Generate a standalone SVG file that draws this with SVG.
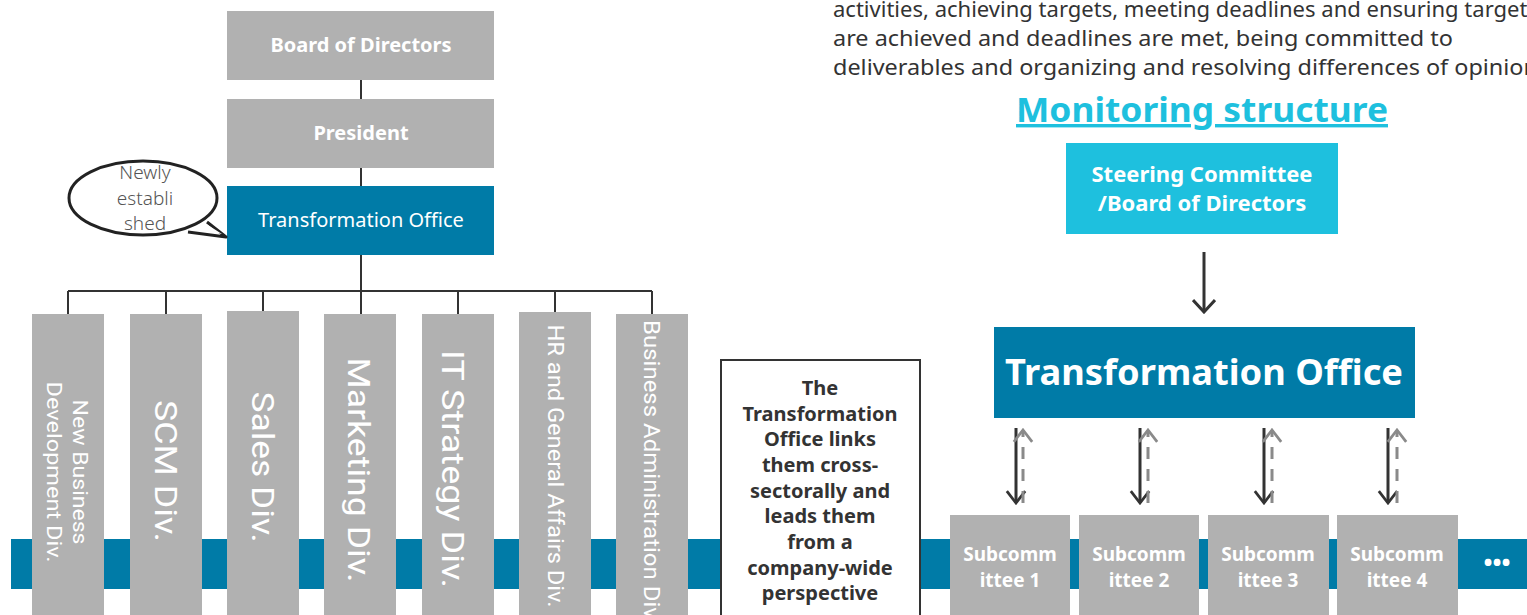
<svg xmlns="http://www.w3.org/2000/svg" width="1527" height="615" viewBox="0 0 1527 615">
<style>
.gray{fill:#b1b1b1}
.blue{fill:#007ba7}
.cyan{fill:#1ec0de}
.wb{fill:#fff;font-family:"Noto Sans","Open Sans",sans-serif;font-weight:bold;text-anchor:middle}
.wr{fill:#fff;font-family:"Noto Sans","Open Sans",sans-serif;text-anchor:middle}
.div{fill:#fff;font-family:Roboto,"Liberation Sans",sans-serif;text-anchor:middle}
.body{fill:#333;font-family:"Noto Sans","Open Sans",sans-serif;font-size:21px}
.conn{stroke:#333;stroke-width:2;fill:none}
.dn{stroke:#333;stroke-width:3;fill:none}
.up{stroke:#8a8a8a;stroke-width:3;fill:none;stroke-dasharray:12 10}
</style>
<defs>
<marker id="chevBig" viewBox="0 0 24 24" refX="22" refY="12" markerWidth="24" markerHeight="24" markerUnits="userSpaceOnUse" orient="auto"><path d="M10,1 L22,12 L10,23" fill="none" stroke="#333" stroke-width="3"/></marker>
<marker id="chevDark" viewBox="0 0 24 24" refX="22" refY="12" markerWidth="22" markerHeight="22" markerUnits="userSpaceOnUse" orient="auto"><path d="M9,2 L22,12 L9,22" fill="none" stroke="#333" stroke-width="3"/></marker>
<marker id="chevGray" viewBox="0 0 24 24" refX="22" refY="12" markerWidth="22" markerHeight="22" markerUnits="userSpaceOnUse" orient="auto"><path d="M9,2 L22,12 L9,22" fill="none" stroke="#8a8a8a" stroke-width="3"/></marker>
</defs>
<rect width="1527" height="615" fill="#fff"/>

<!-- band -->
<rect class="blue" x="11" y="539" width="1516" height="50"/>

<!-- connectors -->
<g id="connectors">
<line class="conn" x1="361" y1="80" x2="361" y2="99"/>
<line class="conn" x1="361" y1="168" x2="361" y2="186"/>
<line class="conn" x1="361" y1="255" x2="361" y2="314"/>
<line class="conn" x1="68" y1="291" x2="652" y2="291"/>
<line class="conn" x1="68" y1="291" x2="68" y2="314"/>
<line class="conn" x1="166" y1="291" x2="166" y2="314"/>
<line class="conn" x1="263" y1="291" x2="263" y2="311"/>
<line class="conn" x1="458" y1="291" x2="458" y2="314"/>
<line class="conn" x1="555" y1="291" x2="555" y2="312"/>
<line class="conn" x1="652" y1="291" x2="652" y2="314"/>
<line class="dn" x1="1204" y1="252" x2="1204" y2="312" marker-end="url(#chevBig)"/>
<line class="dn" x1="1016" y1="428" x2="1016" y2="503" marker-end="url(#chevDark)"/>
<line class="up" x1="1023" y1="503" x2="1023" y2="430" marker-end="url(#chevGray)"/>
<line class="dn" x1="1140" y1="428" x2="1140" y2="503" marker-end="url(#chevDark)"/>
<line class="up" x1="1148" y1="503" x2="1148" y2="430" marker-end="url(#chevGray)"/>
<line class="dn" x1="1264" y1="428" x2="1264" y2="503" marker-end="url(#chevDark)"/>
<line class="up" x1="1272" y1="503" x2="1272" y2="430" marker-end="url(#chevGray)"/>
<line class="dn" x1="1388" y1="428" x2="1388" y2="503" marker-end="url(#chevDark)"/>
<line class="up" x1="1397" y1="503" x2="1397" y2="430" marker-end="url(#chevGray)"/>
</g>

<g id="board"><rect class="gray" x="227" y="11" width="267" height="69"/><text class="wb" x="361" y="52" font-size="20">Board of Directors</text></g>
<g id="president"><rect class="gray" x="227" y="99" width="267" height="69"/><text class="wb" x="361" y="140" font-size="20">President</text></g>
<g id="transformation-office-left"><rect class="blue" x="227" y="186" width="267" height="69"/><text class="wr" x="361" y="227" font-size="20">Transformation Office</text></g>

<g id="bubble">
<path d="M207,222 L226,237 L188,232" fill="#fff" stroke="#222" stroke-width="3" stroke-linejoin="round"/>
<ellipse cx="143" cy="198" rx="74" ry="37" fill="#fff" stroke="#222" stroke-width="3"/>
<path d="M203,222 L222,234 L192,229" fill="#fff" stroke="none"/>
<g fill="#555" font-family="'Noto Sans','Open Sans',sans-serif" font-size="19" text-anchor="middle" font-weight="300">
<text x="145" y="179">Newly</text><text x="145" y="205">establi</text><text x="145" y="230">shed</text>
</g>
</g>

<g id="div-newbiz"><rect class="gray" x="32" y="314" width="72" height="301"/>
<g transform="translate(68,472) rotate(90)"><text class="div" x="0" y="-5" font-size="21" textLength="145" lengthAdjust="spacingAndGlyphs">New Business</text><text class="div" x="0" y="21" font-size="21" textLength="181" lengthAdjust="spacingAndGlyphs">Development Div.</text></g></g>
<g id="div-scm"><rect class="gray" x="130" y="314" width="72" height="301"/>
<g transform="translate(166,471) rotate(90)"><text class="div" x="0" y="11" font-size="32" textLength="142" lengthAdjust="spacingAndGlyphs">SCM Div.</text></g></g>
<g id="div-sales"><rect class="gray" x="227" y="311" width="72" height="304"/>
<g transform="translate(263,467) rotate(90)"><text class="div" x="0" y="11" font-size="32" textLength="151" lengthAdjust="spacingAndGlyphs">Sales Div.</text></g></g>
<g id="div-marketing"><rect class="gray" x="324" y="314" width="72" height="301"/>
<g transform="translate(359,470) rotate(90)"><text class="div" x="0" y="11" font-size="32" textLength="225" lengthAdjust="spacingAndGlyphs">Marketing Div.</text></g></g>
<g id="div-it"><rect class="gray" x="422" y="314" width="72" height="301"/>
<g transform="translate(453,469) rotate(90)"><text class="div" x="0" y="11" font-size="32" textLength="238" lengthAdjust="spacingAndGlyphs">IT Strategy Div.</text></g></g>
<g id="div-hr"><rect class="gray" x="519" y="312" width="72" height="303"/>
<g transform="translate(556,466) rotate(90)"><text class="div" x="0" y="8" font-size="22" textLength="283" lengthAdjust="spacingAndGlyphs">HR and General Affairs Div.</text></g></g>
<g id="div-ba"><rect class="gray" x="616" y="314" width="72" height="301"/>
<g transform="translate(652,472) rotate(90)"><text class="div" x="0" y="8" font-size="22" textLength="304" lengthAdjust="spacingAndGlyphs">Business Administration Div.</text></g></g>

<g id="note">
<rect x="721" y="360" width="199" height="270" fill="#fff" stroke="#333" stroke-width="2"/>
<g fill="#333" font-family="'Noto Sans','Open Sans',sans-serif" font-weight="bold" font-size="20" text-anchor="middle">
<text x="820" y="395">The</text>
<text x="820" y="421">Transformation</text>
<text x="820" y="446">Office links</text>
<text x="820" y="472">them cross-</text>
<text x="820" y="498">sectorally and</text>
<text x="820" y="523">leads them</text>
<text x="820" y="549">from a</text>
<text x="820" y="575">company-wide</text>
<text x="820" y="600">perspective</text>
</g>
</g>

<g id="paragraph">
<text class="body" x="833" y="17" textLength="705" lengthAdjust="spacingAndGlyphs">activities, achieving targets, meeting deadlines and ensuring targets</text>
<text class="body" x="833" y="46" textLength="620" lengthAdjust="spacingAndGlyphs">are achieved and deadlines are met, being committed to</text>
<text class="body" x="833" y="75" textLength="705" lengthAdjust="spacingAndGlyphs">deliverables and organizing and resolving differences of opinion</text>
</g>

<g id="title"><text x="1202" y="122" fill="#1ec0de" font-family="'Noto Sans','Open Sans',sans-serif" font-weight="bold" font-size="34" text-anchor="middle" text-decoration="underline" textLength="372" lengthAdjust="spacingAndGlyphs">Monitoring structure</text></g>

<g id="steering"><rect class="cyan" x="1066" y="143" width="272" height="91"/>
<text class="wb" x="1202" y="182" font-size="22">Steering Committee</text>
<text class="wb" x="1202" y="211" font-size="22">/Board of Directors</text></g>

<g id="transformation-office-right"><rect class="blue" x="994" y="327" width="421" height="91"/>
<text class="wb" x="1204" y="385" font-size="36" textLength="398" lengthAdjust="spacingAndGlyphs">Transformation Office</text></g>

<g id="sub1"><rect class="gray" x="950" y="515" width="120" height="100"/><text class="wb" x="1010" y="561" font-size="19">Subcomm</text><text class="wb" x="1010" y="587" font-size="19">ittee 1</text></g>
<g id="sub2"><rect class="gray" x="1079" y="515" width="120" height="100"/><text class="wb" x="1139" y="561" font-size="19">Subcomm</text><text class="wb" x="1139" y="587" font-size="19">ittee 2</text></g>
<g id="sub3"><rect class="gray" x="1208" y="515" width="121" height="100"/><text class="wb" x="1268" y="561" font-size="19">Subcomm</text><text class="wb" x="1268" y="587" font-size="19">ittee 3</text></g>
<g id="sub4"><rect class="gray" x="1337" y="515" width="121" height="100"/><text class="wb" x="1397" y="561" font-size="19">Subcomm</text><text class="wb" x="1397" y="587" font-size="19">ittee 4</text></g>
<g id="more"><text class="wb" x="1497" y="571" font-size="24">•••</text></g>
</svg>
